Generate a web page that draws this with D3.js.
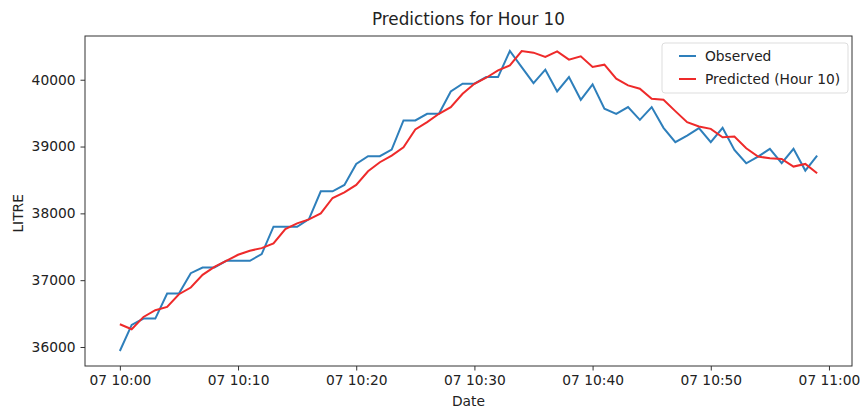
<!DOCTYPE html>
<html lang="en">

<head>
  <meta charset="UTF-8">
  <title>Predictions for Hour 10</title>
  <script src="https://d3js.org/d3.v7.min.js"></script>
  <style>
    body {
      margin: 0;
      background: #fff;
    }

    text {
      font-family: 'DejaVu Sans', sans-serif;
      fill: #222;
    }

    .axis text {
      font-size: 13.8px;
    }

    .axis path,
    .axis line {
      stroke: #333;
    }
  </style>
</head>

<body>
  <script>
    // one reading per minute, 07 10:00 .. 07 10:59
    var startTime = new Date(2023, 0, 7, 10, 0);

    var observed = [
      35940, 36330, 36425, 36425, 36800, 36800, 37105, 37190, 37190, 37290,
      37290, 37290, 37390, 37800, 37800, 37800, 37915, 38330, 38330, 38425,
      38740, 38855, 38855, 38955, 39390, 39390, 39490, 39490, 39825, 39940,
      39940, 40040, 40040, 40430, 40190, 39950, 40150, 39825, 40040, 39700,
      39930, 39565, 39490, 39590, 39400, 39590, 39280, 39065, 39165, 39275,
      39065, 39280, 38950, 38750, 38850, 38965, 38750, 38965, 38640, 38865
    ];

    var predicted = [
      36340, 36265, 36450, 36550, 36600, 36790, 36890, 37080, 37200, 37290,
      37380, 37440, 37480, 37550, 37765, 37850, 37910, 38000, 38230, 38315,
      38425, 38630, 38765, 38865, 38990, 39255, 39365, 39490, 39590, 39790,
      39940, 40030, 40140, 40215, 40430, 40405, 40340, 40425, 40300, 40350,
      40190, 40225, 40015, 39915, 39865, 39715, 39700, 39530, 39365, 39300,
      39265, 39140, 39150, 38975, 38850, 38825, 38815, 38700, 38740, 38600
    ];

    var yTicks = [36000, 37000, 38000, 39000, 40000];

    var seriesNames = ["Observed", "Predicted (Hour 10)"];
    var seriesColors = ["#2e7fbb", "#ee2a2a"];

    var width = 860, height = 412;
    var margin = { top: 36, right: 8, bottom: 46, left: 85 };

    var svg = d3.select("body").append("svg")
      .attr("width", width)
      .attr("height", height);

    var times = observed.map(function (d, i) { return d3.timeMinute.offset(startTime, i); });

    var rows = times.map(function (t, i) {
      return { date: t, obs: observed[i], pred: predicted[i] };
    });

    // matplotlib-style 5% padding
    var tExt = d3.extent(times);
    var tPad = (tExt[1] - tExt[0]) * 0.05;
    var vExt = d3.extent(observed.concat(predicted));
    var vPad = (vExt[1] - vExt[0]) * 0.05;

    var x = d3.scaleTime()
      .domain([new Date(+tExt[0] - tPad), new Date(+tExt[1] + tPad)])
      .range([margin.left, width - margin.right]);

    var y = d3.scaleLinear()
      .domain([vExt[0] - vPad, vExt[1] + vPad])
      .range([height - margin.bottom, margin.top]);

    var xTicks = d3.range(0, 61, 10).map(function (m) { return d3.timeMinute.offset(startTime, m); });

    var xAxis = svg.append("g")
      .attr("class", "axis")
      .attr("transform", "translate(0," + (height - margin.bottom) + ")")
      .call(d3.axisBottom(x).tickValues(xTicks).tickFormat(d3.timeFormat("%d %H:%M")).tickSizeOuter(0).tickSize(4.5).tickPadding(5));
    xAxis.select(".domain").remove();

    var yAxis = svg.append("g")
      .attr("class", "axis")
      .attr("transform", "translate(" + margin.left + ",0)")
      .call(d3.axisLeft(y).tickValues(yTicks).tickFormat(d3.format("d")).tickSizeOuter(0).tickSize(4.5).tickPadding(5));
    yAxis.select(".domain").remove();

    // frame
    svg.append("rect")
      .attr("x", margin.left)
      .attr("y", margin.top)
      .attr("width", width - margin.left - margin.right)
      .attr("height", height - margin.top - margin.bottom)
      .attr("fill", "none")
      .attr("stroke", "#333")
      .attr("stroke-width", 1);

    var lineObs = d3.line()
      .x(function (d) { return x(d.date); })
      .y(function (d) { return y(d.obs); });

    var linePred = d3.line()
      .x(function (d) { return x(d.date); })
      .y(function (d) { return y(d.pred); });

    svg.append("path")
      .datum(rows)
      .attr("fill", "none")
      .attr("stroke", seriesColors[0])
      .attr("stroke-width", 2)
      .attr("d", lineObs);

    svg.append("path")
      .datum(rows)
      .attr("fill", "none")
      .attr("stroke", seriesColors[1])
      .attr("stroke-width", 2)
      .attr("d", linePred);

    // title + labels
    var cx = (margin.left + width - margin.right) / 2;

    svg.append("text")
      .attr("x", cx)
      .attr("y", 25)
      .attr("text-anchor", "middle")
      .style("font-size", "16.8px")
      .text("Predictions for Hour 10");

    svg.append("text")
      .attr("x", cx)
      .attr("y", 406)
      .attr("text-anchor", "middle")
      .style("font-size", "13.8px")
      .text("Date");

    svg.append("text")
      .attr("transform", "translate(23," + y(38000) + ")rotate(-90)")
      .attr("text-anchor", "middle")
      .style("font-size", "13.8px")
      .text("LITRE");

    // legend
    var legend = svg.append("g")
      .attr("transform", "translate(662,43)");

    legend.append("rect")
      .attr("width", 186)
      .attr("height", 50)
      .attr("rx", 3)
      .attr("fill", "#fff")
      .attr("fill-opacity", 0.8)
      .attr("stroke", "#ddd");

    var item = legend.selectAll(".item")
      .data(seriesNames)
      .enter().append("g")
      .attr("class", "item")
      .attr("transform", function (d, i) { return "translate(0," + (13 + i * 23) + ")"; });

    item.append("line")
      .attr("x1", 17)
      .attr("x2", 34)
      .attr("stroke", function (d, i) { return seriesColors[i]; })
      .attr("stroke-width", 2);

    item.append("text")
      .attr("x", 43)
      .attr("dy", "0.35em")
      .style("font-size", "13.8px")
      .text(function (d) { return d; });
  </script>
</body>

</html>
